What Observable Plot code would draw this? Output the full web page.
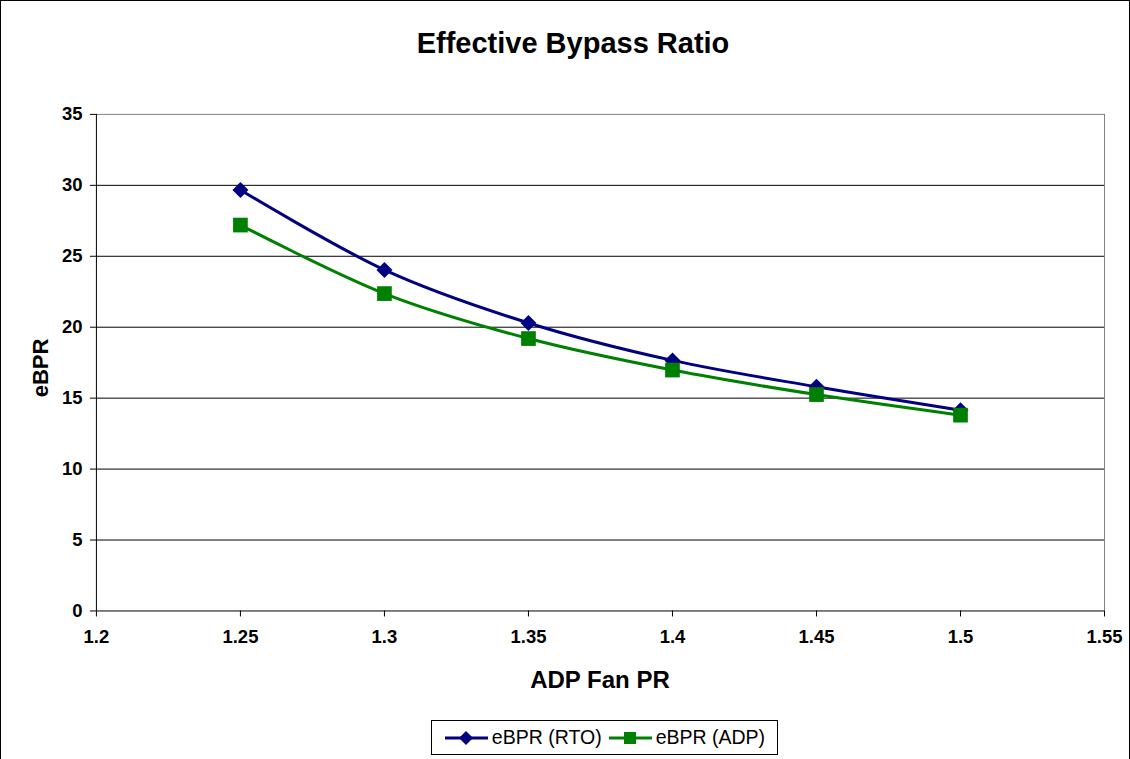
<!DOCTYPE html>
<html>
<head>
<meta charset="utf-8">
<script src="https://cdn.jsdelivr.net/npm/d3@7"></script>
<script src="https://cdn.jsdelivr.net/npm/@observablehq/plot@0.6"></script>
<style>
  html, body { margin: 0; padding: 0; background: #fff; }
  #frame { position: relative; width: 1128px; height: 762px; border: 1px solid #000; overflow: hidden; font-family: "Liberation Sans", Arial, sans-serif; }
  #chart { position: absolute; left: -1px; top: -1px; }
  #title { position: absolute; left: 0; width: 1144px; top: 26px; text-align: center; font-weight: bold; font-size: 29px; line-height: 32px; }
  #xlabel { position: absolute; left: 0; width: 1198px; top: 665px; text-align: center; font-weight: bold; font-size: 24px; line-height: 28px; }
  #ylabel { position: absolute; left: 40px; top: 367px; font-weight: bold; font-size: 22px; transform: translate(-50%, -50%) rotate(-90deg); white-space: nowrap; }
  #legend { position: absolute; left: 430px; top: 719px; width: 347px; height: 35px; border: 1px solid #000; box-sizing: border-box; display: flex; align-items: center; justify-content: center; font-size: 19.5px; gap: 6px; }
  .item { display: flex; align-items: center; gap: 3px; }
</style>
</head>
<body>
<div id="frame">
  <div id="chart"></div>
  <div id="title">Effective Bypass Ratio</div>
  <div id="xlabel">ADP Fan PR</div>
  <div id="ylabel">eBPR</div>
  <div id="legend"></div>
</div>
<script>
const fanPR = [1.25, 1.3, 1.35, 1.4, 1.45, 1.5];
const eBPR_RTO = [29.67, 24.04, 20.3, 17.66, 15.8, 14.15];
const eBPR_ADP = [27.2, 22.37, 19.2, 16.98, 15.25, 13.8];
const seriesNames = ["eBPR (RTO)", "eBPR (ADP)"];
const seriesColors = ["#000080", "#008000"];
const xTicks = [1.2, 1.25, 1.3, 1.35, 1.4, 1.45, 1.5, 1.55];
const xTickLabels = ["1.2", "1.25", "1.3", "1.35", "1.4", "1.45", "1.5", "1.55"];
const yTicks = [0, 5, 10, 15, 20, 25, 30, 35];

const rto = fanPR.map((x, i) => ({x, y: eBPR_RTO[i]}));
const adp = fanPR.map((x, i) => ({x, y: eBPR_ADP[i]}));
const fmtX = (d) => xTickLabels[xTicks.indexOf(d)] ?? String(d);

const plot = Plot.plot({
  width: 1130,
  height: 759,
  marginLeft: 96,
  marginRight: 25,
  marginTop: 114,
  marginBottom: 148,
  style: {fontFamily: "'Liberation Sans', Arial, sans-serif", background: "transparent", color: "#000"},
  x: {domain: [1.2, 1.55], ticks: xTicks, tickFormat: fmtX},
  y: {domain: [0, 35], ticks: yTicks},
  marks: [
    Plot.ruleY(yTicks.filter(d => d > 0 && d < 35), {stroke: "#000", strokeWidth: 1}),
    Plot.ruleY([35], {stroke: "#808080"}),
    Plot.ruleX([1.55], {stroke: "#808080"}),
    Plot.axisY({ticks: yTicks, tickSize: 6, tickPadding: 8, fontSize: 18.5, fontWeight: "bold", label: null, stroke: "#000"}),
    Plot.axisX({ticks: xTicks, tickSize: 6, tickPadding: 13, fontSize: 18.5, fontWeight: "bold", label: null, tickFormat: fmtX}),
    Plot.ruleX([1.2], {stroke: "#000"}),
    Plot.ruleY([0], {stroke: "#000"}),
    Plot.line(rto, {x: "x", y: "y", stroke: seriesColors[0], strokeWidth: 3, curve: "cardinal"}),
    Plot.line(adp, {x: "x", y: "y", stroke: seriesColors[1], strokeWidth: 3, curve: "cardinal"}),
    Plot.dot(rto, {x: "x", y: "y", symbol: "diamond2", r: 7.2, fill: seriesColors[0], stroke: "none"}),
    Plot.dot(adp, {x: "x", y: "y", symbol: "square", r: 8.3, fill: seriesColors[1], stroke: "none"})
  ]
});
document.getElementById("chart").appendChild(plot);

// legend
const legend = document.getElementById("legend");
const shapes = ["diamond", "square"];
seriesNames.forEach((name, i) => {
  const item = document.createElement("div");
  item.className = "item";
  const c = seriesColors[i];
  const marker = shapes[i] === "diamond"
    ? `<path d="M22,2 L29,9 L22,16 L15,9 Z" fill="${c}"/>`
    : `<rect x="16" y="3" width="12" height="12" fill="${c}"/>`;
  item.innerHTML = `<svg width="45" height="18"><line x1="1" x2="44" y1="9" y2="9" stroke="${c}" stroke-width="3"/>${marker}</svg><span>${name}</span>`;
  legend.appendChild(item);
});
</script>
</body>
</html>
